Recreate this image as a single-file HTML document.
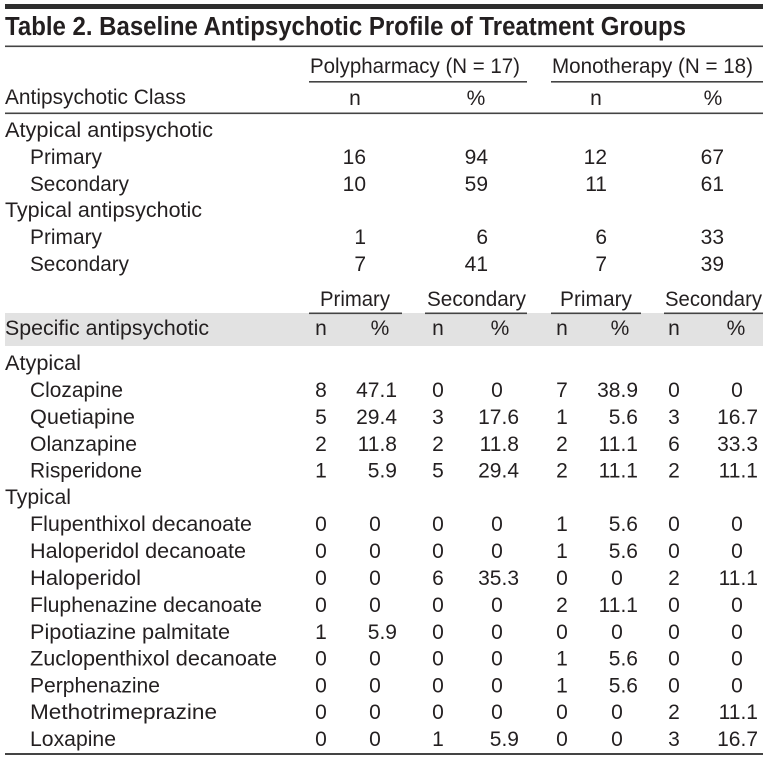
<!DOCTYPE html>
<html><head><meta charset="utf-8"><style>
html,body{margin:0;padding:0;background:#fff;width:768px;height:759px;overflow:hidden}
svg{display:block}
text{font-family:"Liberation Sans",sans-serif;font-size:21px;fill:#231f20}
.t{font-weight:bold;font-size:25.5px}
.m{text-anchor:middle}
.e{text-anchor:end}
</style></head><body>
<svg width="768" height="759" viewBox="0 0 768 759" xmlns="http://www.w3.org/2000/svg">
<rect x="5" y="4" width="758" height="5" fill="#2e2e2e"/>
<text class="t" x="5" y="35" textLength="681" lengthAdjust="spacingAndGlyphs">Table 2. Baseline Antipsychotic Profile of Treatment Groups</text>
<rect x="5" y="45.5" width="758" height="1.6" fill="#444"/>
<text x="310" y="73" textLength="210" lengthAdjust="spacingAndGlyphs">Polypharmacy (N = 17)</text>
<text x="552" y="73" textLength="201" lengthAdjust="spacingAndGlyphs">Monotherapy (N = 18)</text>
<rect x="309" y="81" width="218" height="1.6" fill="#444"/>
<rect x="551" y="81" width="212" height="1.6" fill="#444"/>
<text x="5" y="104" textLength="181" lengthAdjust="spacingAndGlyphs">Antipsychotic Class</text>
<text class="m" x="355" y="105">n</text>
<text class="m" x="476" y="105">%</text>
<text class="m" x="596" y="105">n</text>
<text class="m" x="713" y="105">%</text>
<rect x="5" y="112.5" width="758" height="1.6" fill="#444"/>

<text x="5" y="137" textLength="208" lengthAdjust="spacingAndGlyphs">Atypical antipsychotic</text>
<text x="30" y="164" textLength="72" lengthAdjust="spacingAndGlyphs">Primary</text>
<text class="e" x="366" y="164">16</text><text class="e" x="488" y="164">94</text><text class="e" x="607" y="164">12</text><text class="e" x="724" y="164">67</text>
<text x="30" y="191" textLength="99" lengthAdjust="spacingAndGlyphs">Secondary</text>
<text class="e" x="366" y="191">10</text><text class="e" x="488" y="191">59</text><text class="e" x="607" y="191">11</text><text class="e" x="724" y="191">61</text>
<text x="5" y="217" textLength="197" lengthAdjust="spacingAndGlyphs">Typical antipsychotic</text>
<text x="30" y="244" textLength="72" lengthAdjust="spacingAndGlyphs">Primary</text>
<text class="e" x="366" y="244">1</text><text class="e" x="488" y="244">6</text><text class="e" x="607" y="244">6</text><text class="e" x="724" y="244">33</text>
<text x="30" y="271" textLength="99" lengthAdjust="spacingAndGlyphs">Secondary</text>
<text class="e" x="366" y="271">7</text><text class="e" x="488" y="271">41</text><text class="e" x="607" y="271">7</text><text class="e" x="724" y="271">39</text>

<text x="320" y="306" textLength="70" lengthAdjust="spacingAndGlyphs">Primary</text>
<text x="427" y="306" textLength="99" lengthAdjust="spacingAndGlyphs">Secondary</text>
<text x="560" y="306" textLength="72" lengthAdjust="spacingAndGlyphs">Primary</text>
<text x="665" y="306" textLength="97" lengthAdjust="spacingAndGlyphs">Secondary</text>
<rect x="5" y="313" width="758" height="33" fill="#e2e2e2"/>
<rect x="309" y="312.5" width="93" height="1.6" fill="#444"/>
<rect x="425" y="312.5" width="102" height="1.6" fill="#444"/>
<rect x="551" y="312.5" width="90" height="1.6" fill="#444"/>
<rect x="664" y="312.5" width="99" height="1.6" fill="#444"/>
<text x="5" y="335" textLength="204" lengthAdjust="spacingAndGlyphs">Specific antipsychotic</text>
<text class="m" x="321" y="335">n</text><text class="m" x="380" y="335">%</text>
<text class="m" x="438" y="335">n</text><text class="m" x="500" y="335">%</text>
<text class="m" x="562" y="335">n</text><text class="m" x="620" y="335">%</text>
<text class="m" x="674" y="335">n</text><text class="m" x="736" y="335">%</text>

<text x="5" y="370" textLength="76" lengthAdjust="spacingAndGlyphs">Atypical</text>

<text x="30" y="397" textLength="93" lengthAdjust="spacingAndGlyphs">Clozapine</text>
<text class="m" x="321" y="397">8</text><text class="e" x="397" y="397">47.1</text><text class="m" x="438" y="397">0</text><text class="m" x="497" y="397">0</text><text class="m" x="562" y="397">7</text><text class="e" x="638" y="397">38.9</text><text class="m" x="674" y="397">0</text><text class="m" x="737" y="397">0</text>

<text x="30" y="424" textLength="105" lengthAdjust="spacingAndGlyphs">Quetiapine</text>
<text class="m" x="321" y="424">5</text><text class="e" x="397" y="424">29.4</text><text class="m" x="438" y="424">3</text><text class="e" x="519" y="424">17.6</text><text class="m" x="562" y="424">1</text><text class="e" x="638" y="424">5.6</text><text class="m" x="674" y="424">3</text><text class="e" x="758" y="424">16.7</text>

<text x="30" y="451" textLength="107" lengthAdjust="spacingAndGlyphs">Olanzapine</text>
<text class="m" x="321" y="451">2</text><text class="e" x="397" y="451">11.8</text><text class="m" x="438" y="451">2</text><text class="e" x="519" y="451">11.8</text><text class="m" x="562" y="451">2</text><text class="e" x="638" y="451">11.1</text><text class="m" x="674" y="451">6</text><text class="e" x="758" y="451">33.3</text>

<text x="30" y="477.5" textLength="112" lengthAdjust="spacingAndGlyphs">Risperidone</text>
<text class="m" x="321" y="477.5">1</text><text class="e" x="397" y="477.5">5.9</text><text class="m" x="438" y="477.5">5</text><text class="e" x="519" y="477.5">29.4</text><text class="m" x="562" y="477.5">2</text><text class="e" x="638" y="477.5">11.1</text><text class="m" x="674" y="477.5">2</text><text class="e" x="758" y="477.5">11.1</text>

<text x="5" y="504" textLength="66" lengthAdjust="spacingAndGlyphs">Typical</text>

<text x="30" y="531" textLength="222" lengthAdjust="spacingAndGlyphs">Flupenthixol decanoate</text>
<text class="m" x="321" y="531">0</text><text class="m" x="375" y="531">0</text><text class="m" x="438" y="531">0</text><text class="m" x="497" y="531">0</text><text class="m" x="562" y="531">1</text><text class="e" x="638" y="531">5.6</text><text class="m" x="674" y="531">0</text><text class="m" x="737" y="531">0</text>

<text x="30" y="558" textLength="216" lengthAdjust="spacingAndGlyphs">Haloperidol decanoate</text>
<text class="m" x="321" y="558">0</text><text class="m" x="375" y="558">0</text><text class="m" x="438" y="558">0</text><text class="m" x="497" y="558">0</text><text class="m" x="562" y="558">1</text><text class="e" x="638" y="558">5.6</text><text class="m" x="674" y="558">0</text><text class="m" x="737" y="558">0</text>

<text x="30" y="585" textLength="111" lengthAdjust="spacingAndGlyphs">Haloperidol</text>
<text class="m" x="321" y="585">0</text><text class="m" x="375" y="585">0</text><text class="m" x="438" y="585">6</text><text class="e" x="519" y="585">35.3</text><text class="m" x="562" y="585">0</text><text class="m" x="617" y="585">0</text><text class="m" x="674" y="585">2</text><text class="e" x="758" y="585">11.1</text>

<text x="30" y="612" textLength="232" lengthAdjust="spacingAndGlyphs">Fluphenazine decanoate</text>
<text class="m" x="321" y="612">0</text><text class="m" x="375" y="612">0</text><text class="m" x="438" y="612">0</text><text class="m" x="497" y="612">0</text><text class="m" x="562" y="612">2</text><text class="e" x="638" y="612">11.1</text><text class="m" x="674" y="612">0</text><text class="m" x="737" y="612">0</text>

<text x="30" y="639" textLength="200" lengthAdjust="spacingAndGlyphs">Pipotiazine palmitate</text>
<text class="m" x="321" y="639">1</text><text class="e" x="397" y="639">5.9</text><text class="m" x="438" y="639">0</text><text class="m" x="497" y="639">0</text><text class="m" x="562" y="639">0</text><text class="m" x="617" y="639">0</text><text class="m" x="674" y="639">0</text><text class="m" x="737" y="639">0</text>

<text x="30" y="665.5" textLength="247" lengthAdjust="spacingAndGlyphs">Zuclopenthixol decanoate</text>
<text class="m" x="321" y="665.5">0</text><text class="m" x="375" y="665.5">0</text><text class="m" x="438" y="665.5">0</text><text class="m" x="497" y="665.5">0</text><text class="m" x="562" y="665.5">1</text><text class="e" x="638" y="665.5">5.6</text><text class="m" x="674" y="665.5">0</text><text class="m" x="737" y="665.5">0</text>

<text x="30" y="692.5" textLength="130" lengthAdjust="spacingAndGlyphs">Perphenazine</text>
<text class="m" x="321" y="692.5">0</text><text class="m" x="375" y="692.5">0</text><text class="m" x="438" y="692.5">0</text><text class="m" x="497" y="692.5">0</text><text class="m" x="562" y="692.5">1</text><text class="e" x="638" y="692.5">5.6</text><text class="m" x="674" y="692.5">0</text><text class="m" x="737" y="692.5">0</text>

<text x="30" y="719" textLength="187" lengthAdjust="spacingAndGlyphs">Methotrimeprazine</text>
<text class="m" x="321" y="719">0</text><text class="m" x="375" y="719">0</text><text class="m" x="438" y="719">0</text><text class="m" x="497" y="719">0</text><text class="m" x="562" y="719">0</text><text class="m" x="617" y="719">0</text><text class="m" x="674" y="719">2</text><text class="e" x="758" y="719">11.1</text>

<text x="30" y="746" textLength="86" lengthAdjust="spacingAndGlyphs">Loxapine</text>
<text class="m" x="321" y="746">0</text><text class="m" x="375" y="746">0</text><text class="m" x="438" y="746">1</text><text class="e" x="519" y="746">5.9</text><text class="m" x="562" y="746">0</text><text class="m" x="617" y="746">0</text><text class="m" x="674" y="746">3</text><text class="e" x="758" y="746">16.7</text>

<rect x="5" y="753" width="758" height="2" fill="#444"/>
</svg>
</body></html>
